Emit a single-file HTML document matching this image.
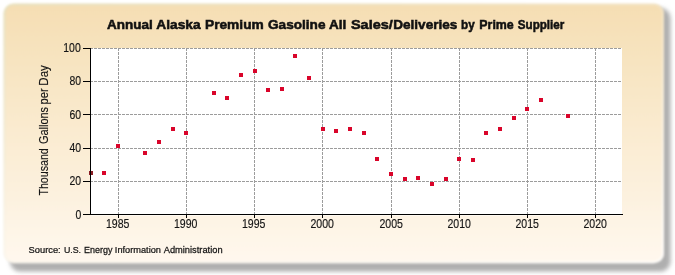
<!DOCTYPE html><html><head><meta charset="utf-8"><style>html,body{margin:0;padding:0;background:#fff;width:675px;height:275px;overflow:hidden}svg{display:block;will-change:transform}</style></head><body><svg width="675" height="275" viewBox="0 0 675 275"><defs><linearGradient id="bg" x1="0" y1="0" x2="0" y2="1"><stop offset="0" stop-color="#F5DEB3"/><stop offset="1" stop-color="#FFF8EE"/></linearGradient><linearGradient id="bd" x1="0" y1="0" x2="1" y2="1"><stop offset="0" stop-color="#DCE4CA" stop-opacity="0.55"/><stop offset="0.5" stop-color="#F0F0E8" stop-opacity="0.3"/><stop offset="1" stop-color="#FFFFFF" stop-opacity="0.8"/></linearGradient><filter id="sh" x="-5%" y="-5%" width="110%" height="120%"><feGaussianBlur stdDeviation="2.3"/></filter><filter id="soft" x="-2%" y="-2%" width="104%" height="104%"><feGaussianBlur stdDeviation="1.1"/></filter></defs><rect x="10" y="8" width="660.5" height="263.5" rx="10" ry="10" fill="#AFAFAF" filter="url(#sh)"/><g filter="url(#soft)"><rect x="3.5" y="3.5" width="660.5" height="259.7" rx="10" ry="10" fill="url(#bg)"/><rect x="4.5" y="4.5" width="658.5" height="257.7" rx="9.0" ry="9.0" fill="none" stroke="url(#bd)" stroke-width="2"/></g><rect x="91" y="48" width="531" height="167.5" fill="#FFFFFF"/><g stroke="#9C9C9C" stroke-width="1" stroke-dasharray="3,1" shape-rendering="crispEdges"><line x1="90" y1="48.5" x2="622" y2="48.5"/><line x1="90" y1="81.5" x2="622" y2="81.5"/><line x1="90" y1="114.5" x2="622" y2="114.5"/><line x1="90" y1="148.5" x2="622" y2="148.5"/><line x1="90" y1="181.5" x2="622" y2="181.5"/><line x1="118.5" y1="48" x2="118.5" y2="214"/><line x1="186.5" y1="48" x2="186.5" y2="214"/><line x1="254.5" y1="48" x2="254.5" y2="214"/><line x1="322.5" y1="48" x2="322.5" y2="214"/><line x1="391.5" y1="48" x2="391.5" y2="214"/><line x1="459.5" y1="48" x2="459.5" y2="214"/><line x1="527.5" y1="48" x2="527.5" y2="214"/><line x1="595.5" y1="48" x2="595.5" y2="214"/></g><g fill="#D9042A" shape-rendering="crispEdges"><rect x="89" y="171" width="4" height="4" fill="#8A1C24"/><rect x="102" y="171" width="4" height="4"/><rect x="116" y="144" width="4" height="4"/><rect x="143" y="151" width="4" height="4"/><rect x="157" y="140" width="4" height="4"/><rect x="171" y="127" width="4" height="4"/><rect x="184" y="131" width="4" height="4"/><rect x="212" y="91" width="4" height="4"/><rect x="225" y="96" width="4" height="4"/><rect x="239" y="73" width="4" height="4"/><rect x="253" y="69" width="4" height="4"/><rect x="266" y="88" width="4" height="4"/><rect x="280" y="87" width="4" height="4"/><rect x="293" y="54" width="4" height="4"/><rect x="307" y="76" width="4" height="4"/><rect x="321" y="127" width="4" height="4"/><rect x="334" y="129" width="4" height="4"/><rect x="348" y="127" width="4" height="4"/><rect x="362" y="131" width="4" height="4"/><rect x="375" y="157" width="4" height="4"/><rect x="389" y="172" width="4" height="4"/><rect x="403" y="177" width="4" height="4"/><rect x="416" y="176" width="4" height="4"/><rect x="430" y="182" width="4" height="4"/><rect x="444" y="177" width="4" height="4"/><rect x="457" y="157" width="4" height="4"/><rect x="471" y="158" width="4" height="4"/><rect x="484" y="131" width="4" height="4"/><rect x="498" y="127" width="4" height="4"/><rect x="512" y="116" width="4" height="4"/><rect x="525" y="107" width="4" height="4"/><rect x="539" y="98" width="4" height="4"/><rect x="566" y="114" width="4" height="4"/></g><g fill="#000" shape-rendering="crispEdges"><rect x="90" y="48" width="1" height="167"/><rect x="90" y="214" width="533" height="1"/><rect x="83" y="214" width="7" height="1"/><rect x="83" y="181" width="7" height="1"/><rect x="83" y="148" width="7" height="1"/><rect x="83" y="114" width="7" height="1"/><rect x="83" y="81" width="7" height="1"/><rect x="83" y="48" width="7" height="1"/><rect x="118" y="215" width="1" height="3"/><rect x="186" y="215" width="1" height="3"/><rect x="254" y="215" width="1" height="3"/><rect x="322" y="215" width="1" height="3"/><rect x="391" y="215" width="1" height="3"/><rect x="459" y="215" width="1" height="3"/><rect x="527" y="215" width="1" height="3"/><rect x="595" y="215" width="1" height="3"/></g><g font-family="Liberation Sans, sans-serif"><text transform="translate(75.48,219) scale(0.8700,1) translate(0,0)" font-weight="normal" font-size="12" fill="#141414" stroke="#141414" stroke-width="0.15">0</text><text transform="translate(69.39,185) scale(0.8700,1) translate(0,0)" font-weight="normal" font-size="12" fill="#141414" stroke="#141414" stroke-width="0.15">20</text><text transform="translate(69.39,152) scale(0.8700,1) translate(0,0)" font-weight="normal" font-size="12" fill="#141414" stroke="#141414" stroke-width="0.15">40</text><text transform="translate(69.39,119) scale(0.8700,1) translate(0,0)" font-weight="normal" font-size="12" fill="#141414" stroke="#141414" stroke-width="0.15">60</text><text transform="translate(69.39,85) scale(0.8700,1) translate(0,0)" font-weight="normal" font-size="12" fill="#141414" stroke="#141414" stroke-width="0.15">80</text><text transform="translate(64.17,52) scale(0.8700,1) translate(-1,0)" font-weight="normal" font-size="12" fill="#141414" stroke="#141414" stroke-width="0.15">100</text><text transform="translate(106.85,228) scale(0.8800,1) translate(-1,0)" font-weight="normal" font-size="12" fill="#141414" stroke="#141414" stroke-width="0.15">1985</text><text transform="translate(174.85,228) scale(0.8800,1) translate(-1,0)" font-weight="normal" font-size="12" fill="#141414" stroke="#141414" stroke-width="0.15">1990</text><text transform="translate(242.85,228) scale(0.8800,1) translate(-1,0)" font-weight="normal" font-size="12" fill="#141414" stroke="#141414" stroke-width="0.15">1995</text><text transform="translate(310.41,228) scale(0.8800,1) translate(0,0)" font-weight="normal" font-size="12" fill="#141414" stroke="#141414" stroke-width="0.15">2000</text><text transform="translate(379.41,228) scale(0.8800,1) translate(0,0)" font-weight="normal" font-size="12" fill="#141414" stroke="#141414" stroke-width="0.15">2005</text><text transform="translate(447.41,228) scale(0.8800,1) translate(0,0)" font-weight="normal" font-size="12" fill="#141414" stroke="#141414" stroke-width="0.15">2010</text><text transform="translate(515.41,228) scale(0.8800,1) translate(0,0)" font-weight="normal" font-size="12" fill="#141414" stroke="#141414" stroke-width="0.15">2015</text><text transform="translate(583.41,228) scale(0.8800,1) translate(0,0)" font-weight="normal" font-size="12" fill="#141414" stroke="#141414" stroke-width="0.15">2020</text><text transform="translate(107.10,29) scale(1.0000,1) translate(0,0)" font-weight="bold" font-size="13.5" fill="#111111" stroke="#111111" stroke-width="0.55">Annual</text><text transform="translate(156.30,29) scale(1.0205,1) translate(0,0)" font-weight="bold" font-size="13.5" fill="#111111" stroke="#111111" stroke-width="0.55">Alaska</text><text transform="translate(206.00,29) scale(1.0179,1) translate(-1,0)" font-weight="bold" font-size="13.5" fill="#111111" stroke="#111111" stroke-width="0.55">Premium</text><text transform="translate(268.00,29) scale(1.0088,1) translate(0,0)" font-weight="bold" font-size="13.5" fill="#111111" stroke="#111111" stroke-width="0.55">Gasoline</text><text transform="translate(329.00,29) scale(1.0059,1) translate(0,0)" font-weight="bold" font-size="13.5" fill="#111111" stroke="#111111" stroke-width="0.55">All</text><text transform="translate(350.90,29) scale(1.0744,1) translate(0,0)" font-weight="bold" font-size="13.5" fill="#111111" stroke="#111111" stroke-width="0.55">Sales/</text><text transform="translate(394.30,29) scale(1.0032,1) translate(-1,0)" font-weight="bold" font-size="13.5" fill="#111111" stroke="#111111" stroke-width="0.55">Deliveries</text><text transform="translate(461.90,29) scale(0.8667,1) translate(-1,0)" font-weight="bold" font-size="13.5" fill="#111111" stroke="#111111" stroke-width="0.55">by</text><text transform="translate(480.20,29) scale(0.9194,1) translate(-1,0)" font-weight="bold" font-size="13.5" fill="#111111" stroke="#111111" stroke-width="0.55">Prime</text><text transform="translate(517.80,29) scale(0.8611,1) translate(0,0)" font-weight="bold" font-size="13.5" fill="#111111" stroke="#111111" stroke-width="0.55">Supplier</text><text transform="translate(29.50,253) scale(0.9531,1) translate(-1,0)" font-weight="normal" font-size="9.8" fill="#141414" stroke="#141414" stroke-width="0.25">Source:</text><text transform="translate(63.90,253) scale(0.9000,1) translate(0,0)" font-weight="normal" font-size="9.8" fill="#141414" stroke="#141414" stroke-width="0.25">U.S.</text><text transform="translate(84.80,253) scale(0.9200,1) translate(-1,0)" font-weight="normal" font-size="9.8" fill="#141414" stroke="#141414" stroke-width="0.25">Energy</text><text transform="translate(115.80,253) scale(0.9417,1) translate(-1,0)" font-weight="normal" font-size="9.8" fill="#141414" stroke="#141414" stroke-width="0.25">Information</text><text transform="translate(163.70,253) scale(0.9484,1) translate(0,0)" font-weight="normal" font-size="9.8" fill="#141414" stroke="#141414" stroke-width="0.25">Administration</text><text transform="translate(48,195.6) rotate(-90) scale(0.8887,1) translate(0,0)" font-size="12" fill="#141414" stroke="#141414" stroke-width="0.15">Thousand</text><text transform="translate(48,143.9) rotate(-90) scale(0.9075,1) translate(0,0)" font-size="12" fill="#141414" stroke="#141414" stroke-width="0.15">Gallons</text><text transform="translate(48,103.5) rotate(-90) scale(0.9250,1) translate(-1,0)" font-size="12" fill="#141414" stroke="#141414" stroke-width="0.15">per</text><text transform="translate(48,84.7) rotate(-90) scale(0.9600,1) translate(-1,0)" font-size="12" fill="#141414" stroke="#141414" stroke-width="0.15">Day</text></g></svg></body></html>
